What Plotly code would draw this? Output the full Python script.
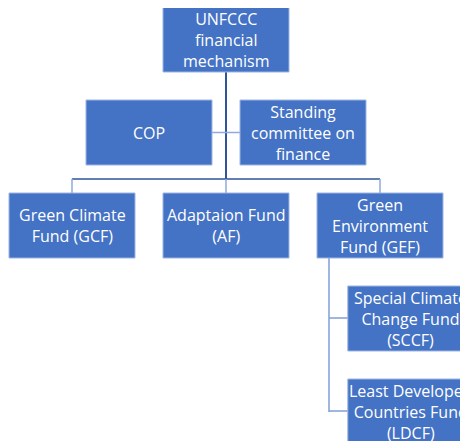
import plotly.graph_objects as go

# Node labels and their grid placement (row, column)
labels = [
    "UNFCCC<br>financial<br>mechanism",
    "COP",
    "Standing<br>committee on<br>finance",
    "Green Climate<br>Fund (GCF)",
    "Adaptaion Fund<br>(AF)",
    "Green<br>Environment<br>Fund (GEF)",
    "Special Climate<br>Change Fund<br>(SCCF)",
    "Least Developed<br>Countries Fund<br>(LDCF)",
]
rows = [0, 1, 1, 2, 2, 2, 3, 4]
cols = [1, 0.5, 1.5, 0, 1, 2, 2.2, 2.2]

# Layout constants
X0, DX = 9, 154
Y0, DY = 7, 93
BW, BH = 126, 65
FILL = "#4472C4"
EDGE = "#9DB5E3"
MAIN_LINE = "#2F5597"
SUB_LINE = "#7F9FD6"
PAGE_OFF = 8  # default page margin of the html body

def box(i):
    x = X0 + cols[i] * DX
    y = Y0 + rows[i] * DY
    return x, y, x + BW, y + BH

fig = go.Figure()
shapes = []
annotations = []

def line(x0, y0, x1, y1, color, w):
    shapes.append(dict(type="line", x0=x0, y0=y0, x1=x1, y1=y1,
                       line=dict(color=color, width=w), layer="below"))

top = box(0)
cx_top = (top[0] + top[2]) / 2
bus_y = box(3)[1] - 14
line(cx_top, top[3], cx_top, bus_y, MAIN_LINE, 2)
cop, scf = box(1), box(2)
mid_y = (cop[1] + cop[3]) / 2
line(cop[2], mid_y, scf[0], mid_y, "#8FAADC", 1.5)
child_centers = [(box(i)[0] + box(i)[2]) / 2 for i in (3, 4, 5)]
line(child_centers[0], bus_y, child_centers[-1], bus_y, MAIN_LINE, 1.5)
for i, c in zip((3, 4, 5), child_centers):
    line(c, bus_y, c, box(i)[1], "#8FAADC", 1.5)
gef = box(5)
sx = gef[0] + 12
line(sx, gef[3], sx, box(7)[1] + 33, SUB_LINE, 1.5)
for i in (6, 7):
    b = box(i)
    yy = b[1] + 32
    line(sx, yy, b[0], yy, SUB_LINE, 1.5)

for i, lab in enumerate(labels):
    x0, y0, x1, y1 = box(i)
    shapes.append(dict(type="rect", x0=x0, y0=y0, x1=x1, y1=y1,
                       fillcolor=FILL, line=dict(color=EDGE, width=1)))
    annotations.append(dict(x=(x0 + x1) / 2, y=(y0 + y1) / 2, text=lab,
                            showarrow=False, xref="x", yref="y",
                            font=dict(family="Open Sans, sans-serif",
                                      size=16, color="white"),
                            align="center"))

fig.update_layout(
    width=468 - PAGE_OFF, height=441 - PAGE_OFF,
    margin=dict(l=0, r=0, t=0, b=0),
    paper_bgcolor="white", plot_bgcolor="white",
    xaxis=dict(range=[PAGE_OFF, 468], visible=False, fixedrange=True),
    yaxis=dict(range=[441, PAGE_OFF], visible=False, fixedrange=True),
    shapes=shapes, annotations=annotations,
    showlegend=False,
)
fig.write_html("out.html")
